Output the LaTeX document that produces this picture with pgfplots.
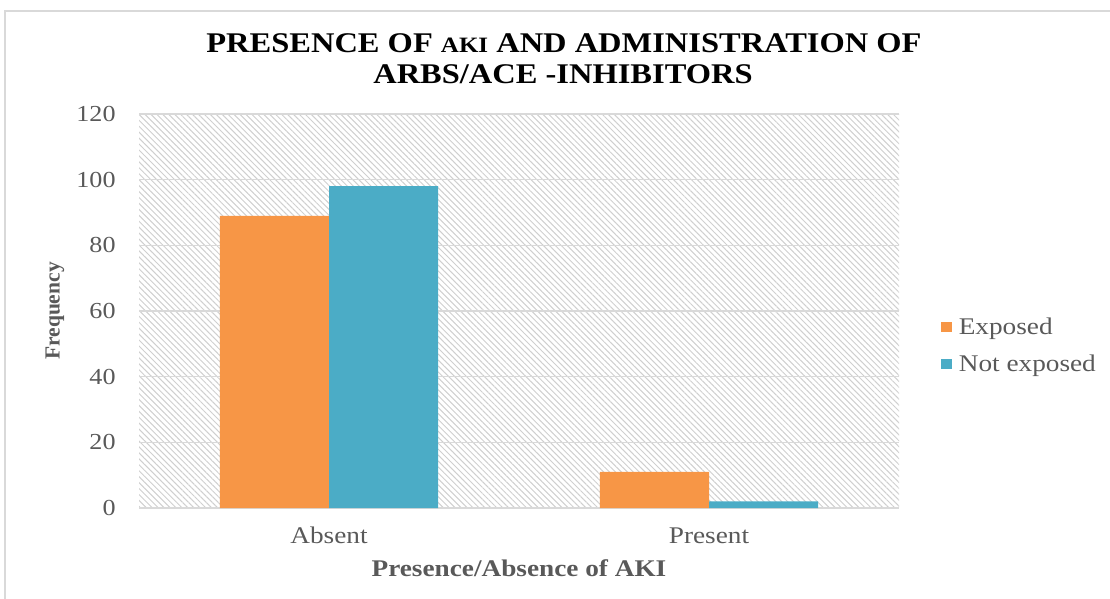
\documentclass[border=0pt]{standalone}
\usepackage{fontspec}
\setmainfont{Liberation Serif}[FakeStretch=1.14]
\newfontfamily\plainserif{Liberation Serif}
\usepackage{pgfplots}
\pgfplotsset{compat=1.18}
\usetikzlibrary{patterns.meta}
\definecolor{exposed}{HTML}{F79646}
\definecolor{notexp}{HTML}{4BACC6}
\definecolor{txt}{HTML}{595959}
\definecolor{gridc}{HTML}{D9D9D9}
\begin{document}
\begin{tikzpicture}
\path[use as bounding box] (0bp,0bp) rectangle (555bp,-299.5bp);
\draw[color=gridc, line width=0.8bp] (2.5bp,-299.5bp) -- (2.5bp,-5.5bp) -- (555bp,-5.5bp);
\begin{axis}[
  at={(69.5bp,-254bp)}, anchor=south west,
  scale only axis, width=380bp, height=197bp,
  xmin=-0.5, xmax=1.5, ymin=0, ymax=120,
  ytick={0,20,...,120},
  xtick={0,1}, xticklabels={Absent,Present},
  axis line style={draw=none},
  ymajorgrids, grid style={draw=gridc, line width=0.6bp},
  major tick length=0pt, tick style={draw=none},
  /pgf/number format/assume math mode=true,
  yticklabel style={font=\fontsize{11.5}{12}\selectfont, text=txt, inner sep=0pt, xshift=-11.5bp},
  xticklabel style={font=\fontsize{12}{14}\selectfont, text=txt, inner sep=0pt, yshift=-9.5bp},
  axis background/.style={pattern={Lines[angle=-45,distance=2.1bp,line width=0.5bp]}, pattern color=gray!38},
  legend style={at={(1.0553,0.407)}, anchor=west, draw=none, fill=none, inner sep=0pt,
    row sep=8bp, column sep=3.5bp, font=\fontsize{12}{14}\selectfont, text=txt,
    nodes={inner sep=0pt, text height=8bp, text depth=2.5bp}},
  legend cell align=left,
  legend image code/.code={\path[fill=none,draw=none] (0bp,-5.25bp) rectangle (5.2bp,5.25bp);\fill[#1] (0bp,-1.4bp) rectangle (5.2bp,3.8bp);},
]
\addplot[ybar, bar width=0.287, bar shift=-0.1435, fill=exposed, draw=none] coordinates {(0,89) (1,11)};
\addlegendentry{Exposed}
\addplot[ybar, bar width=0.287, bar shift=0.1435, fill=notexp, draw=none] coordinates {(0,98) (1,2)};
\addlegendentry{Not exposed}
\end{axis}
\begin{scope}[x=0.5bp,y=-0.5bp]
\node[font=\bfseries\fontsize{14.3}{17}\selectfont] at (564,43) {PRESENCE OF {\fontsize{11}{12}\selectfont AKI} AND ADMINISTRATION OF};
\node[font=\bfseries\fontsize{14.3}{17}\selectfont] at (563,74) {ARBS/ACE -INHIBITORS};
\node[rotate=90, font=\plainserif\bfseries\fontsize{10.8}{12}\selectfont, text=txt] at (55,311) {Frequency};
\node[font=\bfseries\fontsize{12}{14}\selectfont, text=txt] at (519,568) {Presence/Absence of AKI};
\end{scope}
\end{tikzpicture}
\end{document}
